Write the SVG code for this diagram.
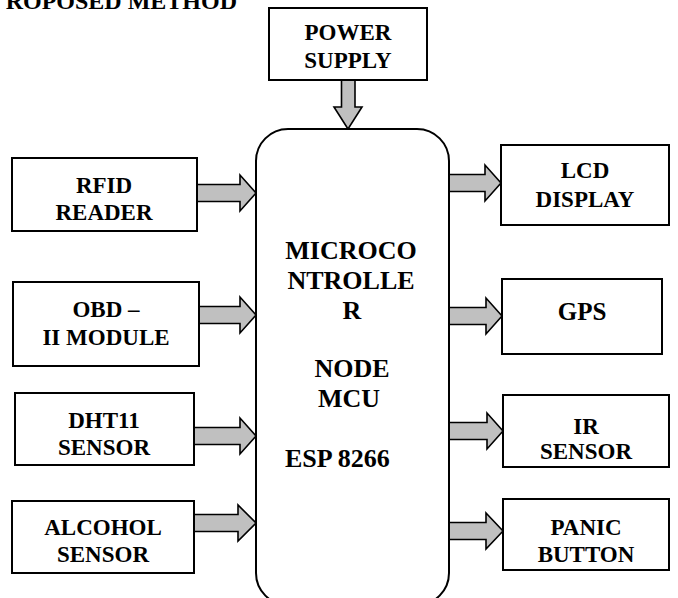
<svg xmlns="http://www.w3.org/2000/svg" width="678" height="598" viewBox="0 0 678 598">
<rect width="678" height="598" fill="#fff"/>
<text x="237" y="9" font-family="Liberation Serif" font-weight="bold" font-size="24" text-anchor="end">ROPOSED METHOD</text>
<g id="connectors" fill="#c0c0c0" stroke="#000" stroke-width="1.6">
<path d="M341.5,80 V107 H334 L348,129 L362,107 H355 V80 Z"/>
<path d="M197,184.5 H240 V175 L256,193 L240,211 V201.5 H197 Z"/>
<path d="M199,306.5 H240 V297 L256,315 L240,333 V323.5 H199 Z"/>
<path d="M194,427.5 H240 V418 L256,436 L240,454 V444.5 H194 Z"/>
<path d="M194,514.5 H238 V505 L256,523 L238,541 V531.5 H194 Z"/>
<path d="M449,174.5 H485 V165 L501,183 L485,201 V191.5 H449 Z"/>
<path d="M449,307.5 H486 V298 L502,316 L486,334 V324.5 H449 Z"/>
<path d="M449,422.5 H487 V413 L503,431 L487,449 V439.5 H449 Z"/>
<path d="M449,522.5 H486 V513 L503,531 L486,549 V539.5 H449 Z"/>
</g>
<g id="mcu">
<rect x="256" y="129" width="193" height="476" rx="32" fill="#fff" stroke="#000" stroke-width="2"/>
<text x="351" y="259" font-family="Liberation Serif" font-weight="bold" font-size="26" text-anchor="middle">MICROCO</text>
<text x="351" y="289" font-family="Liberation Serif" font-weight="bold" font-size="26" text-anchor="middle">NTROLLE</text>
<text x="352" y="319" font-family="Liberation Serif" font-weight="bold" font-size="26" text-anchor="middle">R</text>
<text x="352" y="377" font-family="Liberation Serif" font-weight="bold" font-size="26" text-anchor="middle">NODE</text>
<text x="349" y="407" font-family="Liberation Serif" font-weight="bold" font-size="26" text-anchor="middle">MCU</text>
<text x="285" y="467" font-family="Liberation Serif" font-weight="bold" font-size="26">ESP 8266</text>
</g>
<g id="power">
<rect x="269" y="8" width="158" height="72" fill="#fff" stroke="#000" stroke-width="2"/>
<text x="348" y="40" font-family="Liberation Serif" font-weight="bold" font-size="23" text-anchor="middle">POWER</text>
<text x="348" y="68" font-family="Liberation Serif" font-weight="bold" font-size="23" text-anchor="middle">SUPPLY</text>
</g>
<g id="rfid">
<rect x="12" y="158" width="185" height="73" fill="#fff" stroke="#000" stroke-width="2"/>
<text x="104" y="193" font-family="Liberation Serif" font-weight="bold" font-size="23" text-anchor="middle">RFID</text>
<text x="104" y="220" font-family="Liberation Serif" font-weight="bold" font-size="23" text-anchor="middle">READER</text>
</g>
<g id="obd">
<rect x="13" y="282" width="186" height="84" fill="#fff" stroke="#000" stroke-width="2"/>
<text x="106" y="317" font-family="Liberation Serif" font-weight="bold" font-size="23" text-anchor="middle">OBD &#8211;</text>
<text x="106" y="345" font-family="Liberation Serif" font-weight="bold" font-size="23" text-anchor="middle">II MODULE</text>
</g>
<g id="dht11">
<rect x="15" y="393" width="179" height="72" fill="#fff" stroke="#000" stroke-width="2"/>
<text x="104" y="428" font-family="Liberation Serif" font-weight="bold" font-size="23" text-anchor="middle">DHT11</text>
<text x="104" y="455" font-family="Liberation Serif" font-weight="bold" font-size="23" text-anchor="middle">SENSOR</text>
</g>
<g id="alcohol">
<rect x="12" y="501" width="182" height="72" fill="#fff" stroke="#000" stroke-width="2"/>
<text x="103" y="535" font-family="Liberation Serif" font-weight="bold" font-size="23" text-anchor="middle">ALCOHOL</text>
<text x="103" y="562" font-family="Liberation Serif" font-weight="bold" font-size="23" text-anchor="middle">SENSOR</text>
</g>
<g id="lcd">
<rect x="501" y="145" width="168" height="80" fill="#fff" stroke="#000" stroke-width="2"/>
<text x="585" y="178" font-family="Liberation Serif" font-weight="bold" font-size="23" text-anchor="middle">LCD</text>
<text x="585" y="207" font-family="Liberation Serif" font-weight="bold" font-size="23" text-anchor="middle">DISPLAY</text>
</g>
<g id="gps">
<rect x="502" y="279" width="160" height="75" fill="#fff" stroke="#000" stroke-width="2"/>
<text x="582" y="320" font-family="Liberation Serif" font-weight="bold" font-size="25" text-anchor="middle">GPS</text>
</g>
<g id="ir">
<rect x="503" y="395" width="166" height="72" fill="#fff" stroke="#000" stroke-width="2"/>
<text x="586" y="434" font-family="Liberation Serif" font-weight="bold" font-size="23" text-anchor="middle">IR</text>
<text x="586" y="459" font-family="Liberation Serif" font-weight="bold" font-size="23" text-anchor="middle">SENSOR</text>
</g>
<g id="panic">
<rect x="503" y="499" width="166" height="71" fill="#fff" stroke="#000" stroke-width="2"/>
<text x="586" y="535" font-family="Liberation Serif" font-weight="bold" font-size="23" text-anchor="middle">PANIC</text>
<text x="586" y="562" font-family="Liberation Serif" font-weight="bold" font-size="23" text-anchor="middle">BUTTON</text>
</g>
</svg>
